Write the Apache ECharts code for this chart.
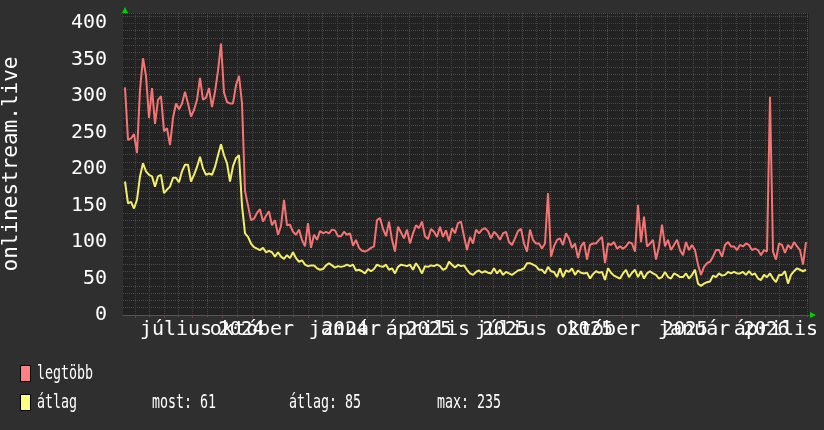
<!DOCTYPE html>
<html><head><meta charset="utf-8">
<script src="https://cdn.jsdelivr.net/npm/echarts@6/dist/echarts.min.js"></script>
<style>html,body{margin:0;padding:0;background:#2f2f2f;}#c{width:824px;height:430px;}</style>
</head><body><div id="c"></div>
<script>
// ---- data (one sample every few pixels) ----
const legtobb = [
312,240,242,248,222,309,352,328,270,311,262,295,300,252,256,233,270,290,282,290,
306,290,272,281,295,325,295,298,311,285,306,335,372,305,292,290,290,315,328,290,
170,150,130,132,140,145,128,136,142,123,130,110,122,158,123,124,114,110,117,103,
94,126,92,110,103,115,112,114,112,117,116,108,108,114,110,112,95,103,92,88,
87,89,92,94,130,133,118,108,128,103,87,121,113,105,117,98,112,123,119,128,
108,104,118,114,107,121,107,116,101,119,112,126,128,108,89,107,98,117,112,117,
119,115,105,114,110,103,112,114,100,96,105,115,118,98,87,117,103,98,98,91,
98,167,80,94,103,105,96,112,105,92,98,78,94,100,76,96,98,98,103,107,
71,98,96,100,91,94,91,94,100,98,87,151,100,135,94,98,103,76,94,124,
94,103,89,96,103,89,82,100,89,96,89,69,55,66,71,73,80,89,89,80,
96,100,94,94,89,96,94,98,96,89,91,89,82,89,87,299,87,76,98,96,
85,96,91,100,94,89,69,100
];
const atlag = [
183,153,155,146,158,190,208,197,192,190,176,190,192,167,172,176,188,188,182,197,
206,206,183,192,203,217,201,192,194,192,203,219,234,219,208,183,204,215,219,150,
112,107,98,93,91,89,92,86,88,86,80,86,80,77,82,78,86,78,73,75,
69,67,68,68,64,62,63,68,71,68,65,67,66,67,69,67,69,61,62,60,
57,63,60,63,69,67,66,69,62,64,57,66,69,68,67,69,62,71,65,57,
67,66,68,67,69,67,62,64,73,69,65,69,67,68,62,57,55,59,61,58,
60,58,57,64,57,62,55,59,57,55,58,61,62,64,71,71,69,67,62,62,
57,66,60,59,52,64,52,61,59,64,55,61,58,57,58,50,56,60,58,59,
48,64,58,54,52,50,57,62,52,58,62,52,60,50,57,60,57,55,50,52,
59,52,50,57,55,52,52,57,50,55,62,43,40,43,45,46,54,52,57,54,
55,59,57,59,57,57,59,55,60,55,57,50,48,55,52,57,50,45,55,55,
60,43,55,60,64,62,60,62
];
const seriesNames = ['legtöbb', 'átlag'];
const yTicks = [0, 50, 100, 150, 200, 250, 300, 350, 400];
const monthNames = ['július', 'október', 'január', 'április', 'július', 'október', 'január', 'április'];
const monthPos = [17, 42.3, 73.3, 101, 128.7, 157.7, 189.7, 217];
const yearNames = ['2024', '2024', '2025', '2025', '2025', '2025', '2026'];
const yearPos = [38.7, 73.3, 101.3, 126.7, 155, 186.7, 213.7];
const monthTicks = [3.3, 13, 22.3, 32.3, 42.3, 51.3, 61, 70.7, 80.7, 90, 99.3, 108.7, 118, 127.7, 137, 146.7, 156, 165.7, 175.3, 184.7, 194, 203.7, 213.3, 222.7];
const statNames = ['most', 'átlag', 'max'];
const statValues = [61, 85, 235];
const yAxisTitle = 'onlinestream.live';

// ---- styling ----
const FONT = 'DejaVu Sans Mono';
const RED = '#f47474', YEL = '#f2ee6a';
const RED_L = '#ff8080', YEL_L = '#ffff80';
const GRID_MAJOR = '#6e2e2e', GRID_MINOR = '#4a4a4a';
const XMIN = -2 / 3, XMAX = 228, YMAX = 414;

const minorTicks = monthTicks.slice(1).map((t, i) => (t + monthTicks[i]) / 2);
minorTicks.push(monthTicks[monthTicks.length - 1] + (monthTicks[monthTicks.length - 1] - monthTicks[monthTicks.length - 2]) / 2);

function nearest(arr, v) {
  let k = 0, best = Infinity;
  arr.forEach((p, i) => { const d = Math.abs(p - v); if (d < best) { best = d; k = i; } });
  return k;
}
// month labels run into each other, so spread them over two label axes to keep all visible
const monthPosA = monthPos.filter((p, i) => i % 2 === 0);
const monthPosB = monthPos.filter((p, i) => i % 2 === 1);

function labelAxis(values, names, pos, size, margin, extra) {
  return Object.assign({
    type: 'value', min: XMIN, max: XMAX, position: 'bottom',
    axisLine: { show: false }, axisTick: { show: false }, splitLine: { show: false },
    axisLabel: {
      show: true, customValues: values, color: '#ffffff', fontFamily: FONT, fontSize: size, margin: margin,
      showMinLabel: true, showMaxLabel: true, hideOverlap: false,
      formatter: v => names[nearest(pos, v)]
    }
  }, extra || {});
}

const chart = echarts.init(document.getElementById('c'), null, { renderer: 'canvas' });
chart.setOption({
  backgroundColor: '#2f2f2f',
  animation: false,
  grid: { left: 123, right: 15, top: 13, bottom: 115, show: true, backgroundColor: '#222222', borderWidth: 0,
          containLabel: false, outerBoundsMode: 'none' },
  xAxis: [
    labelAxis(monthPosA, monthNames, monthPos, 20, 5, {
      axisLine: { show: true, lineStyle: { color: '#555555', width: 1 } },
      axisTick: { show: true, customValues: monthTicks, length: 3, lineStyle: { color: '#8a3a3a' } },
      splitLine: { show: true, lineStyle: { color: GRID_MAJOR, type: [1, 1], width: 1 } }
    }),
    labelAxis(yearPos, yearNames, yearPos, 19, 6, {
      axisTick: { show: true, customValues: minorTicks, length: 2, lineStyle: { color: '#555555' } },
      splitLine: { show: true, lineStyle: { color: GRID_MINOR, type: [1, 1], width: 1 } }
    }),
    labelAxis(monthPosB, monthNames, monthPos, 20, 5)
  ],
  yAxis: {
    type: 'value', min: 0, max: YMAX, interval: 10,
    axisLine: { show: false }, axisTick: { show: false },
    axisLabel: { customValues: yTicks, color: '#ffffff', fontFamily: FONT, fontSize: 20, margin: 16 },
    splitLine: { show: true, lineStyle: { color: [GRID_MAJOR, GRID_MINOR, GRID_MINOR, GRID_MINOR, GRID_MINOR], type: [1, 1], width: 1 } },
    name: yAxisTitle, nameLocation: 'middle', nameGap: 101,
    nameTextStyle: { color: '#ffffff', fontFamily: FONT, fontSize: 21 }
  },
  series: [
    { name: seriesNames[0], type: 'line', xAxisIndex: 0, yAxisIndex: 0, data: legtobb.map((v, i) => [i, v]),
      symbol: 'none', lineStyle: { color: RED, width: 2 }, itemStyle: { color: RED } },
    { name: seriesNames[1], type: 'line', xAxisIndex: 0, yAxisIndex: 0, data: atlag.map((v, i) => [i, v]),
      symbol: 'none', lineStyle: { color: YEL, width: 2 }, itemStyle: { color: YEL } }
  ]
});

// decorations: axis arrows and legend block
const tl = chart.convertToPixel({ xAxisIndex: 0, yAxisIndex: 0 }, [XMIN, YMAX]);
const br = chart.convertToPixel({ xAxisIndex: 0, yAxisIndex: 0 }, [XMAX, 0]);
const GREEN = '#00d000';
const txt = (x, y, s) => ({ type: 'text', x: x, y: y, scaleX: 0.70, silent: true,
  style: { text: s, fill: '#ffffff', fontSize: 19, fontFamily: FONT, verticalAlign: 'middle', align: 'left' } });
chart.setOption({
  graphic: [
    { type: 'polygon', silent: true, shape: { points: [[tl[0] - 1, tl[1]], [tl[0] + 5, tl[1]], [tl[0] + 2, tl[1] - 6]] }, style: { fill: GREEN } },
    { type: 'polygon', silent: true, shape: { points: [[br[0] + 1, br[1] - 3], [br[0] + 1, br[1] + 3], [br[0] + 7, br[1]]] }, style: { fill: GREEN } },
    { type: 'rect', silent: true, shape: { x: 20.5, y: 365.5, width: 10, height: 16 }, style: { fill: RED_L, stroke: '#000000', lineWidth: 1 } },
    { type: 'rect', silent: true, shape: { x: 20.5, y: 394.5, width: 10, height: 16 }, style: { fill: YEL_L, stroke: '#000000', lineWidth: 1 } },
    txt(37, 374, seriesNames[0]),
    txt(37, 403.5, seriesNames[1]),
    txt(152, 403.5, statNames[0] + ': ' + statValues[0]),
    txt(289, 403.5, statNames[1] + ': ' + statValues[1]),
    txt(437, 403.5, statNames[2] + ': ' + statValues[2])
  ]
});
</script>
</body></html>
